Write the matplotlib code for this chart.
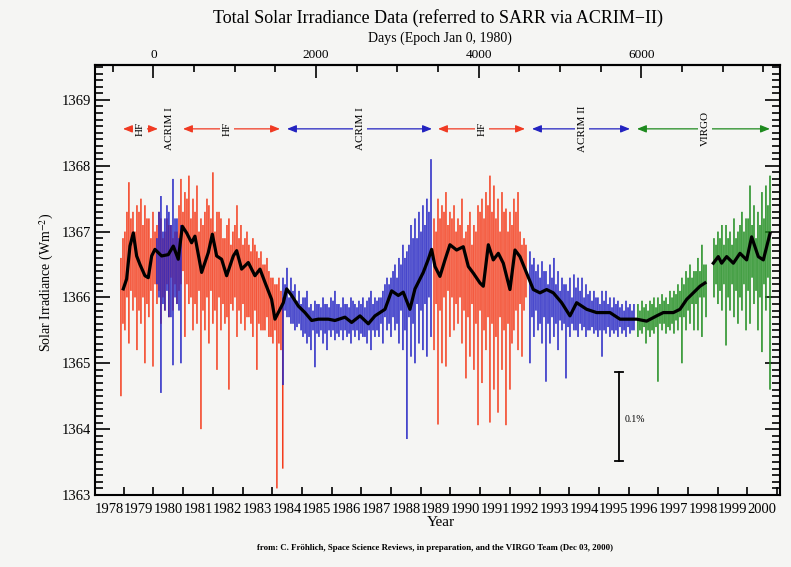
import matplotlib
matplotlib.use("Agg")
import matplotlib.pyplot as plt
import numpy as np

plt.rcParams["font.family"] = ["Liberation Serif", "DejaVu Serif"]
plt.rcParams["mathtext.fontset"] = "stix"

# days since Jan 0, 1980 and daily-range envelopes (W/m^2)
# (outer range incl. spikes, then the dense core in between)
hf1_days = [-400, -351, -302, -252, -203, -154, -105, -56, -6, 43, 92, 141, 190, 240,
            289, 338, 387, 436, 486, 535, 584, 633, 682, 731, 781, 830, 879, 928, 977,
            1027, 1076, 1125, 1174, 1223, 1272, 1322, 1371, 1420, 1469, 1518, 1568, 1590]
hf1_hi = [1366.6, 1367.0, 1367.75, 1367.3, 1367.4, 1367.5, 1367.4, 1367.2, 1367.3, 1367.1,
          1367.2, 1367.0, 1367.1, 1366.9, 1367.0, 1367.8, 1367.6, 1367.85, 1367.5, 1367.7,
          1367.2, 1367.3, 1367.4, 1367.9, 1367.3, 1367.2, 1366.9, 1367.2, 1367.0, 1367.4,
          1367.1, 1366.9, 1366.8, 1366.9, 1366.7, 1366.7, 1366.5, 1366.4, 1366.3, 1366.2,
          1366.1, 1366.0]
hf1_lo = [1364.5, 1365.5, 1365.3, 1365.8, 1365.2, 1365.6, 1365.0, 1365.7, 1364.95, 1365.9,
          1365.6, 1365.8, 1365.7, 1365.8, 1365.9, 1366.2, 1365.4, 1365.9, 1365.5, 1365.6,
          1364.0, 1365.5, 1365.3, 1365.6, 1364.9, 1365.5, 1365.6, 1364.6, 1365.8, 1365.4,
          1365.6, 1365.5, 1365.7, 1365.4, 1364.9, 1365.5, 1365.5, 1365.4, 1365.3, 1363.1,
          1365.2, 1363.4]
hf1c_days = [-375, -326, -277, -227, -178, -129, -80, -31, 19, 68, 117, 166, 215, 265,
             314, 363, 412, 461, 511, 560, 609, 658, 707, 756, 806, 855, 904, 953, 1002,
             1052, 1101, 1150, 1199, 1248, 1297, 1347, 1396, 1445, 1494, 1543]
hf1c_hi = [1366.9, 1367.3, 1367.2, 1367.0, 1367.3, 1367.1, 1367.2, 1366.9, 1367.0, 1367.3,
           1366.9, 1367.2, 1367.1, 1367.0, 1367.4, 1367.3, 1367.5, 1367.2, 1367.3, 1367.0,
           1367.1, 1367.5, 1367.2, 1367.0, 1367.3, 1366.9, 1367.1, 1366.8, 1367.1, 1366.9,
           1366.8, 1367.0, 1366.7, 1366.8, 1366.6, 1366.5, 1366.6, 1366.3, 1366.2, 1366.3]
hf1c_lo = [1365.6, 1366.0, 1366.1, 1366.0, 1365.8, 1366.0, 1365.9, 1366.1, 1366.2, 1366.1,
           1366.0, 1366.2, 1366.3, 1366.2, 1366.1, 1366.4, 1366.2, 1366.0, 1365.9, 1366.1,
           1365.8, 1366.0, 1366.1, 1365.8, 1366.0, 1365.9, 1365.7, 1365.9, 1366.0, 1365.8,
           1365.9, 1365.7, 1365.6, 1365.8, 1365.6, 1365.5, 1365.7, 1365.4, 1365.5, 1365.3]

acrim1a_days = [43, 68, 92, 117, 141, 166, 190, 215, 240, 265, 289, 314, 338]
acrim1a_hi = [1366.9, 1367.3, 1367.54, 1367.0, 1367.2, 1367.4, 1367.3, 1367.1, 1367.8,
              1367.2, 1367.2, 1366.9, 1367.1]
acrim1a_lo = [1366.2, 1366.0, 1364.55, 1365.9, 1365.8, 1366.1, 1365.7, 1365.7, 1364.97,
              1366.0, 1365.9, 1365.8, 1365.0]

acrim1_days = [1593, 1642, 1691, 1740, 1790, 1839, 1888, 1937, 1986, 2035, 2085, 2134,
               2183, 2232, 2281, 2331, 2380, 2429, 2478, 2527, 2576, 2626, 2675, 2724,
               2773, 2822, 2872, 2921, 2970, 3019, 3068, 3117, 3167, 3216, 3265, 3314,
               3363, 3413]
acrim1_hi = [1366.3, 1366.45, 1366.3, 1366.2, 1366.1, 1366.0, 1366.1, 1365.9, 1365.95,
             1365.9, 1366.0, 1365.9, 1366.0, 1366.1, 1365.9, 1366.0, 1365.9, 1366.0,
             1365.9, 1365.95, 1366.0, 1365.95, 1366.1, 1366.0, 1366.0, 1366.1, 1366.3,
             1366.3, 1366.5, 1366.6, 1366.8, 1366.7, 1367.1, 1367.2, 1367.3, 1367.4,
             1367.5, 1368.1]
acrim1_lo = [1364.67, 1365.7, 1365.6, 1365.5, 1365.6, 1365.4, 1365.3, 1365.2, 1364.94,
             1365.4, 1365.3, 1365.2, 1365.4, 1365.35, 1365.4, 1365.35, 1365.4, 1365.3,
             1365.4, 1365.35, 1365.4, 1365.3, 1365.2, 1365.4, 1365.4, 1365.3, 1365.5,
             1365.4, 1365.5, 1365.3, 1365.2, 1363.85, 1365.1, 1365.0, 1365.3, 1365.2,
             1365.1, 1365.4]
acrim1c_days = [1618, 1667, 1716, 1765, 1815, 1864, 1913, 1962, 2011, 2060, 2110, 2159,
                2208, 2257, 2306, 2356, 2405, 2454, 2503, 2552, 2601, 2651, 2700, 2749,
                2798, 2847, 2897, 2946, 2995, 3044, 3093, 3142, 3192, 3241, 3290, 3339,
                3388]
acrim1c_hi = [1366.2, 1366.0, 1366.1, 1365.95, 1365.9, 1366.0, 1365.85, 1365.8, 1365.9,
              1365.85, 1365.9, 1365.85, 1365.95, 1365.9, 1365.85, 1365.9, 1365.85,
              1365.95, 1365.85, 1365.9, 1365.85, 1366.0, 1365.9, 1365.95, 1366.0, 1366.2,
              1366.2, 1366.4, 1366.3, 1366.5, 1366.6, 1366.8, 1366.9, 1366.9, 1367.0,
              1367.1, 1367.3]
acrim1c_lo = [1365.8, 1365.7, 1365.6, 1365.55, 1365.5, 1365.45, 1365.4, 1365.5, 1365.45,
              1365.5, 1365.45, 1365.5, 1365.5, 1365.45, 1365.5, 1365.5, 1365.45, 1365.5,
              1365.5, 1365.45, 1365.4, 1365.5, 1365.5, 1365.5, 1365.6, 1365.7, 1365.6,
              1365.7, 1365.6, 1365.8, 1365.5, 1365.7, 1365.6, 1365.9, 1365.8, 1365.9,
              1366.0]

hf2_days = [3450, 3499, 3548, 3597, 3646, 3696, 3745, 3794, 3843, 3892, 3941, 3991,
            4040, 4089, 4138, 4187, 4237, 4286, 4335, 4384, 4433, 4483, 4532, 4581]
hf2_hi = [1367.2, 1367.5, 1367.4, 1367.6, 1367.3, 1367.4, 1367.2, 1367.5, 1367.0, 1367.3,
          1367.1, 1367.4, 1367.5, 1367.6, 1367.85, 1367.7, 1367.5, 1367.6, 1367.35,
          1367.3, 1367.5, 1367.6, 1366.8, 1366.8]
hf2_lo = [1365.2, 1364.07, 1365.0, 1364.95, 1365.4, 1365.5, 1365.6, 1365.3, 1364.77,
          1365.1, 1364.9, 1364.06, 1364.7, 1365.2, 1364.1, 1364.6, 1364.25, 1364.9,
          1364.06, 1364.6, 1365.5, 1365.2, 1365.1, 1366.0]
hf2c_days = [3475, 3524, 3573, 3622, 3671, 3721, 3770, 3819, 3868, 3917, 3966, 4016,
             4065, 4114, 4163, 4212, 4262, 4311, 4360, 4409, 4458, 4508, 4557]
hf2c_hi = [1367.0, 1367.2, 1367.3, 1367.1, 1367.2, 1367.0, 1367.1, 1366.9, 1367.1, 1366.8,
           1367.0, 1367.3, 1367.2, 1367.4, 1367.3, 1367.2, 1367.0, 1367.3, 1367.0, 1367.1,
           1367.3, 1367.0, 1366.9]
hf2c_lo = [1365.9, 1365.8, 1366.0, 1366.1, 1366.0, 1365.9, 1366.0, 1365.8, 1365.7, 1365.9,
           1365.6, 1365.8, 1365.5, 1365.7, 1365.6, 1365.4, 1365.7, 1365.5, 1365.6, 1365.3,
           1365.8, 1365.9, 1365.8]

acrim2_days = [4630, 4679, 4729, 4778, 4827, 4876, 4925, 4975, 5024, 5073, 5122, 5171,
               5221, 5270, 5319, 5368, 5417, 5466, 5516, 5565, 5614, 5663, 5712, 5762,
               5811, 5860, 5909]
acrim2_hi = [1366.7, 1366.6, 1366.5, 1366.55, 1366.4, 1366.5, 1366.6, 1366.4, 1366.3,
             1366.2, 1366.3, 1366.35, 1366.3, 1366.3, 1366.2, 1366.1, 1366.1, 1366.0,
             1366.1, 1366.1, 1366.0, 1366.0, 1365.95, 1365.9, 1365.95, 1365.9, 1365.9]
acrim2_lo = [1365.0, 1365.4, 1365.5, 1365.3, 1364.72, 1365.3, 1365.4, 1365.2, 1365.5,
             1364.77, 1365.4, 1365.5, 1365.4, 1365.5, 1365.4, 1365.5, 1365.45, 1365.4,
             1365.1, 1365.45, 1365.4, 1365.45, 1365.4, 1365.45, 1365.4, 1365.45, 1365.5]
acrim2c_days = [4655, 4704, 4754, 4803, 4852, 4901, 4950, 5000, 5049, 5098, 5147, 5196,
                5246, 5295, 5344, 5393, 5442, 5491, 5541, 5590, 5639, 5688, 5737, 5787,
                5836, 5885]
acrim2c_hi = [1366.5, 1366.4, 1366.3, 1366.4, 1366.2, 1366.3, 1366.2, 1366.1, 1366.2,
              1366.1, 1366.0, 1366.15, 1366.1, 1366.0, 1366.05, 1365.95, 1366.0, 1365.9,
              1365.95, 1365.9, 1365.85, 1365.9, 1365.85, 1365.8, 1365.85, 1365.8]
acrim2c_lo = [1365.7, 1365.8, 1365.6, 1365.7, 1365.6, 1365.7, 1365.6, 1365.65, 1365.6,
              1365.55, 1365.6, 1365.5, 1365.6, 1365.55, 1365.5, 1365.55, 1365.5, 1365.5,
              1365.5, 1365.55, 1365.5, 1365.5, 1365.55, 1365.5, 1365.55, 1365.5]

virgo1_days = [5958, 6008, 6057, 6106, 6155, 6204, 6254, 6303, 6352, 6401, 6450, 6499,
               6549, 6598, 6647, 6696, 6745, 6795]
virgo1_hi = [1365.9, 1365.95, 1365.9, 1365.95, 1366.0, 1366.0, 1366.05, 1366.0, 1366.1,
             1366.1, 1366.2, 1366.3, 1366.4, 1366.5, 1366.4, 1366.6, 1366.8, 1366.5]
virgo1_lo = [1365.4, 1365.45, 1365.3, 1365.4, 1365.45, 1364.72, 1365.5, 1365.45, 1365.5,
             1365.45, 1365.5, 1365.0, 1365.5, 1365.6, 1365.5, 1365.5, 1365.4, 1365.7]
virgo1c_days = [5983, 6033, 6082, 6131, 6180, 6229, 6279, 6328, 6377, 6426, 6475, 6524,
                6574, 6623, 6672, 6721, 6770]
virgo1c_hi = [1365.8, 1365.85, 1365.8, 1365.9, 1365.85, 1365.9, 1365.95, 1365.9, 1366.0,
              1366.05, 1366.1, 1366.2, 1366.3, 1366.3, 1366.4, 1366.4, 1366.5]
virgo1c_lo = [1365.5, 1365.55, 1365.5, 1365.5, 1365.55, 1365.6, 1365.6, 1365.55, 1365.6,
              1365.65, 1365.7, 1365.7, 1365.8, 1365.9, 1365.9, 1366.0, 1366.0]

virgo2_days = [6893, 6942, 6991, 7041, 7090, 7139, 7188, 7237, 7287, 7336, 7385, 7434,
               7483, 7532, 7582]
virgo2_hi = [1366.9, 1367.0, 1367.1, 1367.1, 1367.0, 1367.2, 1367.0, 1367.3, 1367.2,
             1367.7, 1367.4, 1367.3, 1367.6, 1367.7, 1367.85]
virgo2_lo = [1366.0, 1365.9, 1365.8, 1365.27, 1365.8, 1365.7, 1365.6, 1365.8, 1365.5,
             1365.6, 1365.9, 1365.5, 1365.17, 1365.8, 1364.6]
virgo2c_days = [6918, 6967, 7016, 7066, 7115, 7164, 7213, 7262, 7312, 7361, 7410, 7459,
                7508, 7557]
virgo2c_hi = [1366.8, 1366.9, 1366.8, 1366.9, 1366.8, 1366.9, 1367.1, 1367.0, 1367.2,
              1367.1, 1366.9, 1367.1, 1367.2, 1367.4]
virgo2c_lo = [1366.2, 1366.1, 1366.2, 1366.0, 1366.2, 1366.1, 1366.0, 1366.2, 1366.1,
              1366.3, 1366.1, 1366.0, 1366.2, 1366.3]

# 81-day running mean (black curve), gap marked by nan
mean_days = [-371, -330, -289, -248, -207, -166, -105, -64, -22, 18, 100, 182, 244, 305,
             355, 408, 469, 510, 592, 674, 724, 777, 838, 900, 982, 1023, 1084, 1166,
             1248, 1310, 1371, 1453, 1494, 1556, 1597, 1638, 1699, 1781, 1863, 1945,
             2027, 2150, 2232, 2355, 2437, 2540, 2642, 2724, 2847, 2929, 3011, 3072,
             3154, 3216, 3318, 3380, 3421, 3462, 3523, 3585, 3646, 3728, 3810, 3872,
             3933, 4015, 4056, 4118, 4179, 4241, 4302, 4384, 4446, 4507, 4589, 4671,
             4753, 4835, 4917, 5020, 5122, 5204, 5327, 5450, 5614, 5737, 5860, 5942,
             6065, 6188, 6270, 6393, 6475, 6557, 6639, 6721, 6782, 6830, 6885, 6946,
             6987, 7049, 7131, 7213, 7295, 7356, 7438, 7500, 7541, 7582]
mean_vals = [1366.13, 1366.28, 1366.78, 1366.98, 1366.63, 1366.50, 1366.33, 1366.30,
             1366.63, 1366.73, 1366.63, 1366.65, 1366.78, 1366.58, 1367.08, 1366.98,
             1366.83, 1366.93, 1366.38, 1366.68, 1366.96, 1366.63, 1366.58, 1366.33,
             1366.63, 1366.71, 1366.43, 1366.53, 1366.33, 1366.43, 1366.23, 1365.97,
             1365.67, 1365.82, 1365.92, 1366.13, 1366.03, 1365.87, 1365.77, 1365.65,
             1365.67, 1365.67, 1365.65, 1365.70, 1365.62, 1365.72, 1365.60, 1365.72,
             1365.82, 1366.10, 1366.03, 1366.08, 1365.82, 1366.13, 1366.38, 1366.58,
             1366.73, 1366.47, 1366.32, 1366.57, 1366.80, 1366.72, 1366.77, 1366.47,
             1366.37, 1366.22, 1366.17, 1366.80, 1366.57, 1366.67, 1366.52, 1366.12,
             1366.72, 1366.62, 1366.37, 1366.12, 1366.07, 1366.12, 1366.07, 1365.92,
             1365.72, 1365.92, 1365.82, 1365.77, 1365.77, 1365.67, 1365.67, 1365.67,
             1365.64, 1365.72, 1365.77, 1365.77, 1365.82, 1365.97, 1366.07, 1366.17,
             1366.22, np.nan, 1366.52, 1366.62, 1366.52, 1366.62, 1366.52, 1366.67,
             1366.57, 1366.92, 1366.62, 1366.57, 1366.77, 1366.97]

# instrument periods (start day, end day, label day, name, colour)
period_names = ["HF", "HF", "ACRIM I", "HF", "ACRIM II", "VIRGO"]
period_start = [-375, 363, 1642, 3499, 4655, 5946]
period_end = [55, 1556, 3425, 4569, 5860, 7581]
period_label = [-166, 904, 2540, 4040, 5270, 6782]
period_color = ["#f03a22", "#f03a22", "#2323c0", "#f03a22", "#2323c0", "#1e8a1e"]

year_labels = list(range(1978, 2001))

RED = "#f43c1c"
BLUE = "#2424c4"
GREEN = "#1c8c1c"
BG = "#f5f5f3"

fig = plt.figure(figsize=(7.91, 5.67), dpi=100, facecolor=BG)
ax = fig.add_axes([0.1201, 0.127, 0.866, 0.7584], facecolor=BG)

lw = 1.1
series = [
    (hf1_days, hf1_lo, hf1_hi, RED, 2), (hf1c_days, hf1c_lo, hf1c_hi, RED, 2),
    (acrim1a_days, acrim1a_lo, acrim1a_hi, BLUE, 3),
    (acrim1_days, acrim1_lo, acrim1_hi, BLUE, 2), (acrim1c_days, acrim1c_lo, acrim1c_hi, BLUE, 2),
    (hf2_days, hf2_lo, hf2_hi, RED, 2), (hf2c_days, hf2c_lo, hf2c_hi, RED, 2),
    (acrim2_days, acrim2_lo, acrim2_hi, BLUE, 2), (acrim2c_days, acrim2c_lo, acrim2c_hi, BLUE, 2),
    (virgo1_days, virgo1_lo, virgo1_hi, GREEN, 2), (virgo1c_days, virgo1c_lo, virgo1c_hi, GREEN, 2),
    (virgo2_days, virgo2_lo, virgo2_hi, GREEN, 2), (virgo2c_days, virgo2c_lo, virgo2c_hi, GREEN, 2),
]
for d, lo, hi, c, z in series:
    ax.vlines(d, lo, hi, color=c, lw=lw, zorder=z, snap=False)

ax.plot(mean_days, mean_vals, color="black", lw=2.3, zorder=5)

# instrument period arrows
ya = 1368.56
for s, e, lx, name, c in zip(period_start, period_end, period_label,
                             period_names, period_color):
    ax.annotate("", xy=(e, ya), xytext=(s, ya),
                arrowprops=dict(arrowstyle="<|-|>,head_length=0.55,head_width=0.22",
                                color=c, lw=0.9, shrinkA=0, shrinkB=0), zorder=4)
    ax.text(lx, ya, name, rotation=90, ha="center", va="center", fontsize=8,
            bbox=dict(facecolor=BG, edgecolor="none", pad=1.5), zorder=6)
ax.text(203, ya, "ACRIM I", rotation=90, ha="center", va="center", fontsize=8,
        zorder=6)

# 0.1 % scale bar
bar_x = 5728
ax.plot([bar_x, bar_x], [1363.51, 1364.87], color="black", lw=1.3)
ax.plot([bar_x - 50, bar_x + 50], [1363.51, 1363.51], color="black", lw=1.3)
ax.plot([bar_x - 50, bar_x + 50], [1364.87, 1364.87], color="black", lw=1.3)
ax.text(bar_x + 70, 1364.14, "0.1%", fontsize=7, va="center", ha="left")

ax.set_xlim(-719, 7705)
ax.set_ylim(1363, 1369.53)

# bottom axis: ticks at year boundaries, labels mid-year
ax.set_xticks([(y + 1 - 1980) * 365.25 for y in year_labels])
ax.set_xticklabels([])
ax.set_xticks([(y + 0.5 - 1980) * 365.25 for y in year_labels], minor=True)
ax.set_xticklabels([str(y) for y in year_labels], minor=True, fontsize=10.5)
ax.tick_params(axis="x", which="major", direction="in", length=6, width=1.2)
ax.tick_params(axis="x", which="minor", length=0, pad=6)

ax.set_yticks(np.arange(1363, 1370, 1))
ax.set_yticks(np.arange(1363, 1369.55, 0.1), minor=True)
ax.tick_params(axis="y", which="both", direction="in", left=True, right=True, width=1.2)
ax.tick_params(axis="y", which="major", length=11, labelsize=10.5, pad=3)
ax.tick_params(axis="y", which="minor", length=6)

top = ax.secondary_xaxis("top")
top.set_xticks([0, 2000, 4000, 6000])
top.set_xticks(np.arange(-500, 7700, 500), minor=True)
top.tick_params(which="major", direction="in", length=9, width=1.2, labelsize=9.5, pad=3)
top.tick_params(which="minor", direction="in", length=5, width=1.2)
top.spines["top"].set_linewidth(1.5)

for sp in ax.spines.values():
    sp.set_linewidth(1.5)

fig.text(0.554, 0.968, "Total Solar Irradiance Data (referred to SARR via ACRIM\u2212II)",
         ha="center", va="center", fontsize=13)
fig.text(0.556, 0.933, "Days (Epoch Jan 0, 1980)", ha="center", va="center", fontsize=10)
fig.text(0.557, 0.079, "Year", ha="center", va="center", fontsize=11)
fig.text(0.0594, 0.5026, r"Solar Irradiance (Wm$^{-2}$)", rotation=90,
         ha="center", va="center", fontsize=10)
fig.text(0.55, 0.0335,
         "from: C. Fr\u00f6hlich, Space Science Reviews, in preparation, and the VIRGO Team (Dec 03, 2000)",
         ha="center", va="center", fontsize=6.3, weight="bold")

fig.savefig("out.png", dpi=100, facecolor=BG)
